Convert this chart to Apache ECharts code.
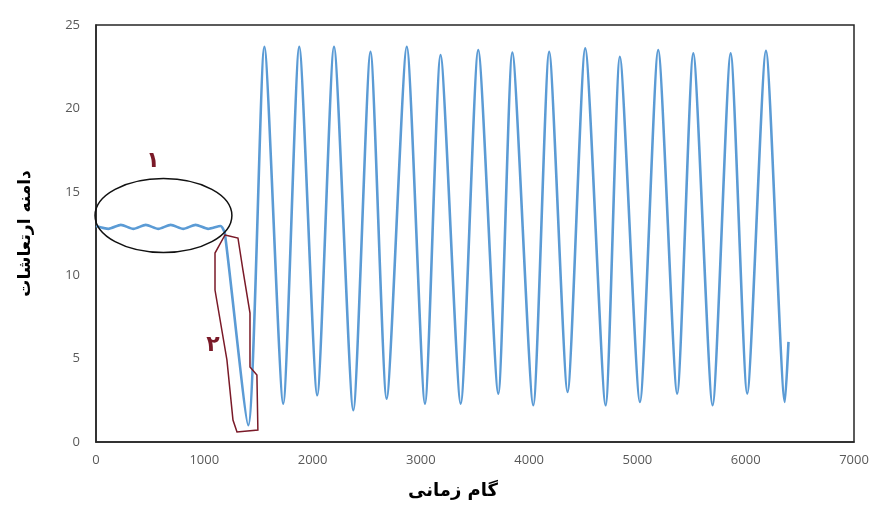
<!DOCTYPE html>
<html>
<head>
<meta charset="utf-8">
<script src="https://cdn.jsdelivr.net/npm/echarts@6/dist/echarts.min.js"></script>
<style>
html,body{margin:0;padding:0;background:#fff;}
#chart{width:880px;height:527px;}
</style>
</head>
<body>
<div id="chart"></div>
<script>
// Time step (x) values and vibration amplitude (y) values
var steps = [0,115,230,345,460,575,690,805,920,1035,1150,1190,1406,
  1555,1729,1877,2043,2198,2376,2535,2684,2870,3038,3182,3368,3530,3715,3845,4038,4185,4355,4518,4706,4838,5023,5192,5367,5516,5694,5861,6014,6187,6362,6395];
var amplitude = [12.95,12.78,13.02,12.78,13.02,12.78,13.02,12.78,13.02,12.78,12.95,12.5,1.0,
  23.7,2.3,23.7,2.8,23.7,1.9,23.4,2.6,23.7,2.3,23.2,2.3,23.5,2.9,23.35,2.2,23.4,3.0,23.6,2.2,23.1,2.4,23.5,2.9,23.3,2.2,23.3,2.9,23.45,2.4,6.0];
var xTicks = [0,1000,2000,3000,4000,5000,6000,7000];
var yTicks = [0,5,10,15,20,25];
var xTitle = 'گام زمانی';
var yTitle = 'دامنه ارتعاشات';

var seriesData = steps.map(function(s,i){ return [s, amplitude[i]]; });

var chart = echarts.init(document.getElementById('chart'));
chart.setOption({
  animation:false,
  backgroundColor:'#ffffff',
  grid:{left:96,right:26,top:25,bottom:85,show:true,borderColor:'#262626',borderWidth:1.5,backgroundColor:'transparent'},
  xAxis:{
    type:'value',min:xTicks[0],max:xTicks[xTicks.length-1],interval:1000,
    name:xTitle,nameLocation:'middle',nameGap:40,
    nameTextStyle:{fontSize:18,fontWeight:'bold',color:'#000',fontFamily:'DejaVu Sans, Noto Sans, sans-serif',padding:[0,44,0,0]},
    axisLine:{show:true,lineStyle:{color:'#262626',width:1.5}},
    axisTick:{show:false},splitLine:{show:false},
    axisLabel:{fontSize:13,color:'#595959',margin:12,fontFamily:'Open Sans, Liberation Sans, sans-serif',formatter:function(v){return String(v);}}
  },
  yAxis:{
    type:'value',min:yTicks[0],max:yTicks[yTicks.length-1],interval:5,
    name:yTitle,nameLocation:'middle',nameGap:62,nameRotate:90,
    nameTextStyle:{fontSize:17,fontWeight:'bold',color:'#000',fontFamily:'DejaVu Sans, Noto Sans, sans-serif'},
    axisLine:{show:true,lineStyle:{color:'#262626',width:1.5}},
    axisTick:{show:false},splitLine:{show:false},
    axisLabel:{fontSize:13,color:'#595959',margin:16,fontFamily:'Open Sans, Liberation Sans, sans-serif'}
  },
  series:[{
    type:'line',data:seriesData,smooth:0.22,showSymbol:false,
    lineStyle:{color:'#5B9BD5',width:2.6},itemStyle:{color:'#5B9BD5'}
  }]
});

// Annotations defined in data units, converted to pixels
function px(p){ return chart.convertToPixel({gridIndex:0}, p); }
var ellC = px([623,13.58]);
var ellE = px([623+632,13.58+2.22]);
var region2 = [[1191,12.41],[1311,12.23],[1357,10.31],[1422,7.73],[1422,4.5],[1486,4.02],[1495,0.72],[1302,0.6],[1265,1.32],[1209,4.92],[1099,9.11],[1099,11.33]];
var lab1 = px([526,16.85]);
var lab2 = px([1080,5.8]);
chart.setOption({
  graphic:[
    {type:'ellipse',shape:{cx:ellC[0],cy:ellC[1],rx:ellE[0]-ellC[0],ry:ellC[1]-ellE[1]},style:{fill:'none',stroke:'#111',lineWidth:1.5},z:10},
    {type:'polygon',shape:{points:region2.map(px)},style:{fill:'none',stroke:'#7a1a28',lineWidth:1.5},z:10},
    {type:'text',x:lab1[0],y:lab1[1],style:{text:'۱',fill:'#7a1a28',align:'center',verticalAlign:'middle',font:'bold 22px DejaVu Sans'},z:10},
    {type:'text',x:lab2[0],y:lab2[1],style:{text:'۲',fill:'#7a1a28',align:'center',verticalAlign:'middle',font:'bold 22px DejaVu Sans'},z:10}
  ]
});
</script>
</body>
</html>
